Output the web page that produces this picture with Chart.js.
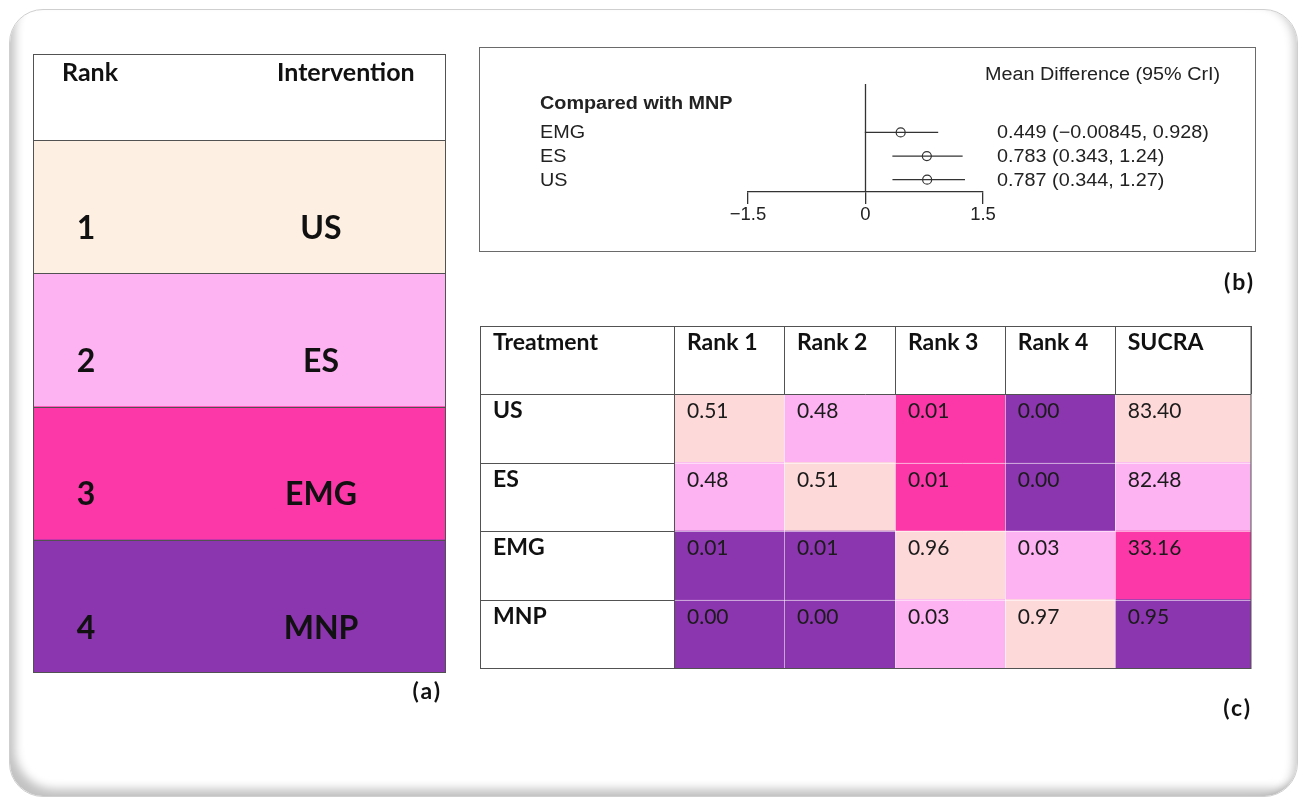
<!DOCTYPE html>
<html>
<head>
<meta charset="utf-8">
<script src="https://cdn.jsdelivr.net/npm/chart.js@4.4.1/dist/chart.umd.min.js"></script>
<style>
  html, body { margin: 0; padding: 0; background: #fff; width: 1305px; height: 798px; overflow: hidden; }
  #frame {
    position: absolute; left: 9px; top: 9px; width: 1289px; height: 788px;
    box-sizing: border-box; border: 1px solid #cfcfcf; border-radius: 34px;
    box-shadow: inset 12px -14px 10px -7px rgba(0,0,0,0.24), inset -10px 0 10px -7px rgba(0,0,0,0.22);
  }
  canvas { position: absolute; }
</style>
</head>
<body>
<div id="frame"></div>
<canvas id="rankChart" width="413" height="651" style="left:33px;top:54px"></canvas>
<canvas id="forestChart" width="780" height="250" style="left:479px;top:47px"></canvas>
<canvas id="sucraChart" width="780" height="400" style="left:480px;top:326px"></canvas>

<script>
// ---------- data ----------
// (a) ranking of interventions
const ranks = ['1', '2', '3', '4'];
const interventions = ['US', 'ES', 'EMG', 'MNP'];

// (b) mean difference versus MNP with 95% credible interval
const comparisons = ['EMG', 'ES', 'US'];
const meanDiff = [0.449, 0.783, 0.787];
const lowerCrI = [-0.00845, 0.343, 0.344];
const upperCrI = [0.928, 1.24, 1.27];
const forestTicks = [-1.5, 0, 1.5];

// (c) rank probabilities and SUCRA
const treatments = ['US', 'ES', 'EMG', 'MNP'];
const columnTitles = ['Rank 1', 'Rank 2', 'Rank 3', 'Rank 4', 'SUCRA'];
const rank1 = [0.51, 0.48, 0.01, 0.00];
const rank2 = [0.48, 0.51, 0.01, 0.00];
const rank3 = [0.01, 0.01, 0.96, 0.03];
const rank4 = [0.00, 0.00, 0.03, 0.97];
const sucra = [83.40, 82.48, 33.16, 0.95];

// ---------- styles ----------
const palette = { cream: '#FDEFE1', peach: '#FDD9D9', pink: '#FDB2F2', hot: '#FC38A8', purple: '#8B35AF' };
const rankFill = [palette.cream, palette.pink, palette.hot, palette.purple];
// shade of every cell in (c), column by column
const cellShade = [
  ['peach', 'pink', 'purple', 'purple'],
  ['pink', 'peach', 'purple', 'purple'],
  ['hot', 'hot', 'peach', 'pink'],
  ['purple', 'purple', 'pink', 'peach'],
  ['peach', 'pink', 'hot', 'purple']
];
// relative column widths of the coloured part of (c)
const colEdges = [0, 1, 2.01, 3.01, 4.01, 5.25];

const LINE = '#525252';
const CAL = 'Lato, "Open Sans", sans-serif';
const ARIAL = '"Liberation Sans", Arial, sans-serif';

const base = {
  responsive: false, animation: false, events: [],
  plugins: { legend: { display: false }, tooltip: { enabled: false } }
};

function hline(ctx, x0, x1, y) { y = Math.round(y) + 0.5; ctx.beginPath(); ctx.moveTo(x0, y); ctx.lineTo(x1, y); ctx.stroke(); }
function vline(ctx, x, y0, y1) { x = Math.round(x) + 0.5; ctx.beginPath(); ctx.moveTo(x, y0); ctx.lineTo(x, y1); ctx.stroke(); }
function wideText(ctx, txt, x, y, sx) { ctx.save(); ctx.translate(x, y); ctx.scale(sx, 1); ctx.fillText(txt, 0, 0); ctx.restore(); }
function panelTag(ctx, txt, xRight, y) {
  ctx.save();
  ctx.fillStyle = '#111'; ctx.font = 'bold 23px ' + CAL; ctx.textAlign = 'right'; ctx.textBaseline = 'alphabetic';
  ctx.letterSpacing = '2px';
  ctx.fillText(txt, xRight, y);
  ctx.restore();
}

// ---------- (a) rank table ----------
const rankTable = {
  id: 'rankTable',
  afterDatasetsDraw(chart) {
    const { ctx, chartArea: a, scales: { y } } = chart;
    const rowH = (a.bottom - a.top) / ranks.length;
    ctx.save();
    ctx.strokeStyle = LINE; ctx.lineWidth = 1;
    ctx.strokeRect(0.5, 0.5, a.right - 1, a.bottom - 1);
    ranks.forEach((r, i) => hline(ctx, 0, a.right, y.getPixelForValue(i) - rowH / 2));
    ctx.fillStyle = '#111';
    ctx.font = 'bold 25px ' + CAL; ctx.textBaseline = 'alphabetic'; ctx.textAlign = 'left';
    ctx.fillText('Rank', 29, 27);
    ctx.fillText('Intervention', 244, 27);
    ctx.font = 'bold 32px ' + CAL; ctx.textBaseline = 'middle'; ctx.textAlign = 'center';
    ranks.forEach((r, i) => {
      const cy = y.getPixelForValue(i) + 22;
      ctx.fillText(r, 53, cy);
      ctx.fillText(interventions[i], 288, cy);
    });
    ctx.restore();
    panelTag(ctx, '(a)', 409, 645);
  }
};

new Chart(document.getElementById('rankChart'), {
  type: 'bar',
  data: {
    labels: ranks,
    datasets: [{ data: ranks.map(() => [0, 1]), backgroundColor: rankFill, borderWidth: 0,
                 barPercentage: 1, categoryPercentage: 1 }]
  },
  options: Object.assign({}, base, {
    indexAxis: 'y',
    layout: { padding: { top: 86, left: 0, right: 0, bottom: 32 } },
    scales: { x: { type: 'linear', min: 0, max: 1, display: false }, y: { type: 'category', display: false } }
  }),
  plugins: [rankTable]
});

// ---------- (b) forest plot ----------
const fmt = v => String(v).replace('-', '\u2212');
const forestText = {
  id: 'forestText',
  beforeDraw(chart) {
    const { ctx } = chart;
    ctx.save();
    ctx.strokeStyle = '#6a6a6a'; ctx.lineWidth = 1;
    ctx.strokeRect(0.5, 0.5, 776, 204);
    ctx.restore();
  },
  afterDraw(chart) {
    const { ctx, scales: { y } } = chart;
    const sx = 1.1;
    ctx.save();
    ctx.fillStyle = '#222'; ctx.textAlign = 'left';
    ctx.textBaseline = 'alphabetic';
    ctx.font = '18px ' + ARIAL;
    wideText(ctx, 'Mean Difference (95% CrI)', 506, 33, sx);
    ctx.font = 'bold 18px ' + ARIAL;
    wideText(ctx, 'Compared with MNP', 61, 62, sx);
    ctx.font = '18px ' + ARIAL; ctx.textBaseline = 'middle';
    comparisons.forEach((c, i) => {
      const py = y.getPixelForValue(i + 1) + 1;
      wideText(ctx, c, 61, py, sx);
      wideText(ctx, `${fmt(meanDiff[i])} (${fmt(lowerCrI[i])}, ${fmt(upperCrI[i])})`, 518, py, sx);
    });
    ctx.restore();
    panelTag(ctx, '(b)', 776, 243);
  }
};

const ciLines = comparisons.map((c, i) => ({
  type: 'line', data: [{ x: lowerCrI[i], y: i + 1 }, { x: upperCrI[i], y: i + 1 }],
  borderColor: '#333', borderWidth: 1.3, pointRadius: 0, clip: false
}));

new Chart(document.getElementById('forestChart'), {
  type: 'scatter',
  data: {
    datasets: [
      { type: 'line', data: [{ x: 0, y: -1.05 }, { x: 0, y: 3.52 }], borderColor: '#333', borderWidth: 1.3, pointRadius: 0, clip: false },
      ...ciLines,
      { type: 'scatter', data: meanDiff.map((m, i) => ({ x: m, y: i + 1 })), pointStyle: 'circle', pointRadius: 4.5,
        backgroundColor: 'rgba(0,0,0,0)', borderColor: '#333', borderWidth: 1.2, clip: false }
    ]
  },
  options: Object.assign({}, base, {
    layout: { padding: { left: 269, right: 276, top: 37, bottom: 69 } },
    scales: {
      x: {
        type: 'linear', min: -1.5, max: 1.5,
        afterBuildTicks: s => { s.ticks = forestTicks.map(v => ({ value: v })); },
        afterFit: s => { s.height = 36; },
        grid: { drawOnChartArea: false, drawTicks: true, tickLength: 12, color: '#333', lineWidth: 1.3 },
        border: { display: true, color: '#333', width: 1.3 },
        ticks: { color: '#222', font: { family: ARIAL, size: 18.5 }, padding: 0, maxRotation: 0,
                 callback: v => fmt(v) }
      },
      y: { type: 'linear', min: -1.05, max: 3.52, reverse: true, display: false }
    }
  }),
  plugins: [forestText]
});

// ---------- (c) rank probability / SUCRA table ----------
const columns = [rank1, rank2, rank3, rank4, sucra];
const sucraTable = {
  id: 'sucraTable',
  afterDatasetsDraw(chart) {
    const { ctx, chartArea: a, scales: { x, y } } = chart;
    const rowH = (a.bottom - a.top) / treatments.length;
    const edges = colEdges.map(e => x.getPixelForValue(e));
    ctx.save();
    // faint seams between coloured cells
    ctx.strokeStyle = 'rgba(255,255,255,0.55)'; ctx.lineWidth = 1;
    for (let c = 1; c < columns.length; c++) vline(ctx, edges[c], a.top, a.bottom);
    for (let r = 1; r < treatments.length; r++) hline(ctx, a.left, a.right, a.top + r * rowH);
    // ruling
    ctx.strokeStyle = LINE;
    ctx.strokeRect(0.5, 0.5, Math.round(a.right) - 0.5, Math.round(a.bottom));
    edges.forEach((ex, c) => vline(ctx, ex, 0, c === 0 ? a.bottom : a.top));
    hline(ctx, 0, a.right, a.top);
    for (let r = 1; r < treatments.length; r++) hline(ctx, 0, a.left, a.top + r * rowH);
    // header text
    ctx.fillStyle = '#111'; ctx.textAlign = 'left'; ctx.textBaseline = 'alphabetic';
    ctx.font = 'bold 23px ' + CAL;
    ctx.fillText('Treatment', 13, 24);
    columnTitles.forEach((t, c) => ctx.fillText(t, edges[c] + 13, 24));
    treatments.forEach((t, r) => ctx.fillText(t, 13, a.top + r * rowH + 24));
    // cell values
    ctx.font = '21px ' + CAL; ctx.fillStyle = '#1b1b1b';
    columns.forEach((col, c) => col.forEach((v, r) => ctx.fillText(v.toFixed(2), edges[c] + 13, a.top + r * rowH + 24)));
    ctx.restore();
    panelTag(ctx, '(c)', 772, 390);
  }
};

new Chart(document.getElementById('sucraChart'), {
  type: 'bar',
  data: {
    labels: treatments,
    datasets: columns.map((col, c) => ({
      label: columnTitles[c],
      data: treatments.map(() => [colEdges[c], colEdges[c + 1]]),
      backgroundColor: cellShade[c].map(s => palette[s]),
      borderWidth: 0, grouped: false, barPercentage: 1, categoryPercentage: 1
    }))
  },
  options: Object.assign({}, base, {
    indexAxis: 'y',
    layout: { padding: { left: 194, right: 9, top: 68, bottom: 58 } },
    scales: {
      x: { type: 'linear', min: 0, max: colEdges[colEdges.length - 1], display: false },
      y: { type: 'category', display: false }
    }
  }),
  plugins: [sucraTable]
});
</script>
</body>
</html>
